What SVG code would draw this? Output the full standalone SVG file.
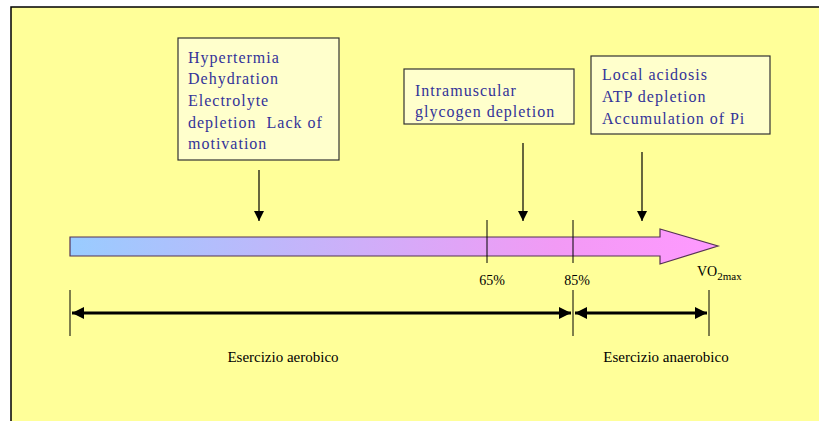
<svg xmlns="http://www.w3.org/2000/svg" width="819" height="421" viewBox="0 0 819 421">
<defs>
<linearGradient id="grad" x1="70" y1="0" x2="718" y2="0" gradientUnits="userSpaceOnUse">
<stop offset="0" stop-color="#99CCFF"/>
<stop offset="0.75" stop-color="#F29AF5"/>
<stop offset="1" stop-color="#FF99FF"/>
</linearGradient>
<marker id="down" viewBox="0 0 10 10" refX="10" refY="5" markerWidth="10" markerHeight="10" markerUnits="userSpaceOnUse" orient="auto">
<path d="M0,0 L10,5 L0,10 Z" fill="#000"/>
</marker>
<marker id="dbl" viewBox="0 0 10 10" refX="10" refY="5" markerWidth="4" markerHeight="4" orient="auto-start-reverse">
<path d="M0,0 L10,5 L0,10 Z" fill="#000"/>
</marker>
<style>
.box{fill:#FFFFCC;stroke:#333;stroke-width:1.2}
.bt{font-family:"Liberation Serif","DejaVu Serif",serif;font-size:16px;fill:#333399;letter-spacing:1px}
.lbl{font-family:"Liberation Serif","DejaVu Serif",serif;font-size:14px;fill:#000}
.bl{font-family:"Liberation Serif","DejaVu Serif",serif;font-size:15px;fill:#000}
.tick{stroke:#000;stroke-width:1}
.conn{stroke:#000;stroke-width:1.2;fill:none}
.dbl{stroke:#000;stroke-width:3;fill:none}
</style>
</defs>
<rect x="0" y="0" width="819" height="421" fill="#fff"/>
<rect x="11" y="7" width="808" height="414" fill="#FFFF99"/>
<path d="M11,421 V7 H819" fill="none" stroke="#000" stroke-width="1.5"/>

<g id="box-hyper">
<rect class="box" x="178" y="38" width="161" height="122"/>
<text class="bt" x="188" y="63">Hypertermia</text>
<text class="bt" x="188" y="84">Dehydration</text>
<text class="bt" x="188" y="106">Electrolyte</text>
<text class="bt" x="188" y="128" xml:space="preserve">depletion  Lack of</text>
<text class="bt" x="188" y="149">motivation</text>
</g>

<g id="box-glycogen">
<rect class="box" x="404" y="69" width="170" height="55"/>
<text class="bt" x="415" y="96">Intramuscular</text>
<text class="bt" x="415" y="117">glycogen depletion</text>
</g>

<g id="box-acidosis">
<rect class="box" x="591" y="56" width="179" height="78"/>
<text class="bt" x="602" y="80">Local acidosis</text>
<text class="bt" x="602" y="102">ATP depletion</text>
<text class="bt" x="602" y="124">Accumulation of Pi</text>
</g>

<g id="axis">
<path d="M70,237 H660 V229 L718,246 L660,264 V256 H70 Z" fill="url(#grad)" stroke="#553355" stroke-width="1.2"/>
<line class="tick" x1="487" y1="220" x2="487" y2="263"/>
<line class="tick" x1="573" y1="220" x2="573" y2="263"/>
<text class="lbl" x="492" y="285" text-anchor="middle">65%</text>
<text class="lbl" x="577" y="285" text-anchor="middle">85%</text>
<text class="lbl" x="697" y="276" font-size="16">VO<tspan font-size="11" dy="4">2max</tspan></text>
</g>

<g id="connectors">
<line class="conn" x1="259" y1="170" x2="259" y2="221" marker-end="url(#down)"/>
<line class="conn" x1="523" y1="143" x2="523" y2="221" marker-end="url(#down)"/>
<line class="conn" x1="642" y1="152" x2="642" y2="221" marker-end="url(#down)"/>
</g>

<g id="ranges">
<line class="tick" x1="70" y1="290" x2="70" y2="336"/>
<line class="tick" x1="573" y1="290" x2="573" y2="336"/>
<line class="tick" x1="709" y1="290" x2="709" y2="336"/>
<line class="dbl" x1="72" y1="313" x2="571" y2="313" marker-start="url(#dbl)" marker-end="url(#dbl)"/>
<line class="dbl" x1="575" y1="313" x2="707" y2="313" marker-start="url(#dbl)" marker-end="url(#dbl)"/>
<text class="bl" x="283" y="362" text-anchor="middle">Esercizio aerobico</text>
<text class="bl" x="666" y="362" text-anchor="middle">Esercizio anaerobico</text>
</g>
</svg>
